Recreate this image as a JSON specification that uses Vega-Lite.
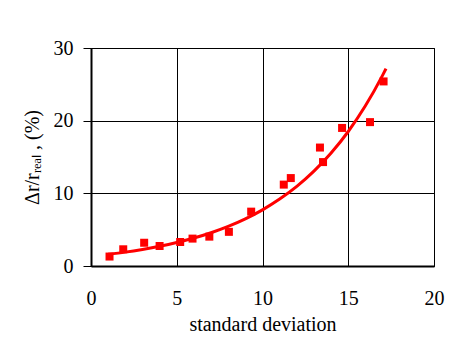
{
  "$schema": "https://vega.github.io/schema/vega-lite/v6.json",
  "width": 343,
  "height": 218,
  "autosize": {"type": "none"},
  "padding": {"left": 91, "top": 48, "right": 18, "bottom": 77},
  "background": "white",
  "config": {
    "view": {"stroke": "black", "strokeWidth": 1},
    "font": "Liberation Serif",
    "axis": {
      "labelFont": "Liberation Serif",
      "titleFont": "Liberation Serif",
      "labelFontSize": 20,
      "titleFontSize": 20,
      "labelColor": "black",
      "titleColor": "black",
      "titleFontWeight": "normal",
      "domainColor": "black",
      "domainWidth": 2,
      "gridColor": "black",
      "gridOpacity": 1,
      "gridWidth": 1,
      "tickColor": "black",
      "labelFlush": false
    }
  },
  "datasets": {
    "points": [
      {"sd": 1.08, "err": 1.3},
      {"sd": 1.88, "err": 2.3},
      {"sd": 3.1, "err": 3.2},
      {"sd": 4.0, "err": 2.75},
      {"sd": 5.2, "err": 3.3},
      {"sd": 5.92, "err": 3.77},
      {"sd": 6.9, "err": 4.04},
      {"sd": 8.04, "err": 4.7},
      {"sd": 9.34, "err": 7.48},
      {"sd": 11.24, "err": 11.2},
      {"sd": 11.65, "err": 12.1},
      {"sd": 13.35, "err": 16.3},
      {"sd": 13.53, "err": 14.3},
      {"sd": 14.64, "err": 19.0},
      {"sd": 16.27, "err": 19.8},
      {"sd": 17.06, "err": 25.4}
    ],
    "fit": [
      {"sd": 1, "err": 1.61},
      {"sd": 2, "err": 1.91},
      {"sd": 3, "err": 2.28},
      {"sd": 4, "err": 2.71},
      {"sd": 5, "err": 3.23},
      {"sd": 6, "err": 3.85},
      {"sd": 7, "err": 4.58},
      {"sd": 8, "err": 5.45},
      {"sd": 9, "err": 6.49},
      {"sd": 10, "err": 7.73},
      {"sd": 11, "err": 9.21},
      {"sd": 12, "err": 10.96},
      {"sd": 13, "err": 13.05},
      {"sd": 14, "err": 15.54},
      {"sd": 15, "err": 18.51},
      {"sd": 16, "err": 22.04},
      {"sd": 17, "err": 26.24},
      {"sd": 17.2, "err": 27.16}
    ]
  },
  "layer": [
    {
      "data": {"name": "points"},
      "mark": {"type": "square", "color": "#ff0000", "opacity": 1, "size": 64, "filled": true},
      "encoding": {
        "x": {
          "field": "sd", "type": "quantitative",
          "scale": {"domain": [0, 20], "nice": false, "zero": false},
          "axis": {"values": [0, 5, 10, 15, 20], "title": "standard deviation", "ticks": false, "labelPadding": 22, "titlePadding": 6, "grid": true}
        },
        "y": {
          "field": "err", "type": "quantitative",
          "scale": {"domain": [0, 30], "nice": false},
          "axis": {"values": [0, 10, 20, 30], "title": "Δr/rᵣₑₐₗ , (%)", "tickSize": 8, "labelPadding": 10, "titlePadding": 11, "grid": true}
        }
      }
    },
    {
      "data": {"name": "fit"},
      "mark": {"type": "line", "color": "#ff0000", "strokeWidth": 3, "interpolate": "monotone"},
      "encoding": {
        "x": {"field": "sd", "type": "quantitative"},
        "y": {"field": "err", "type": "quantitative"}
      }
    }
  ]
}
